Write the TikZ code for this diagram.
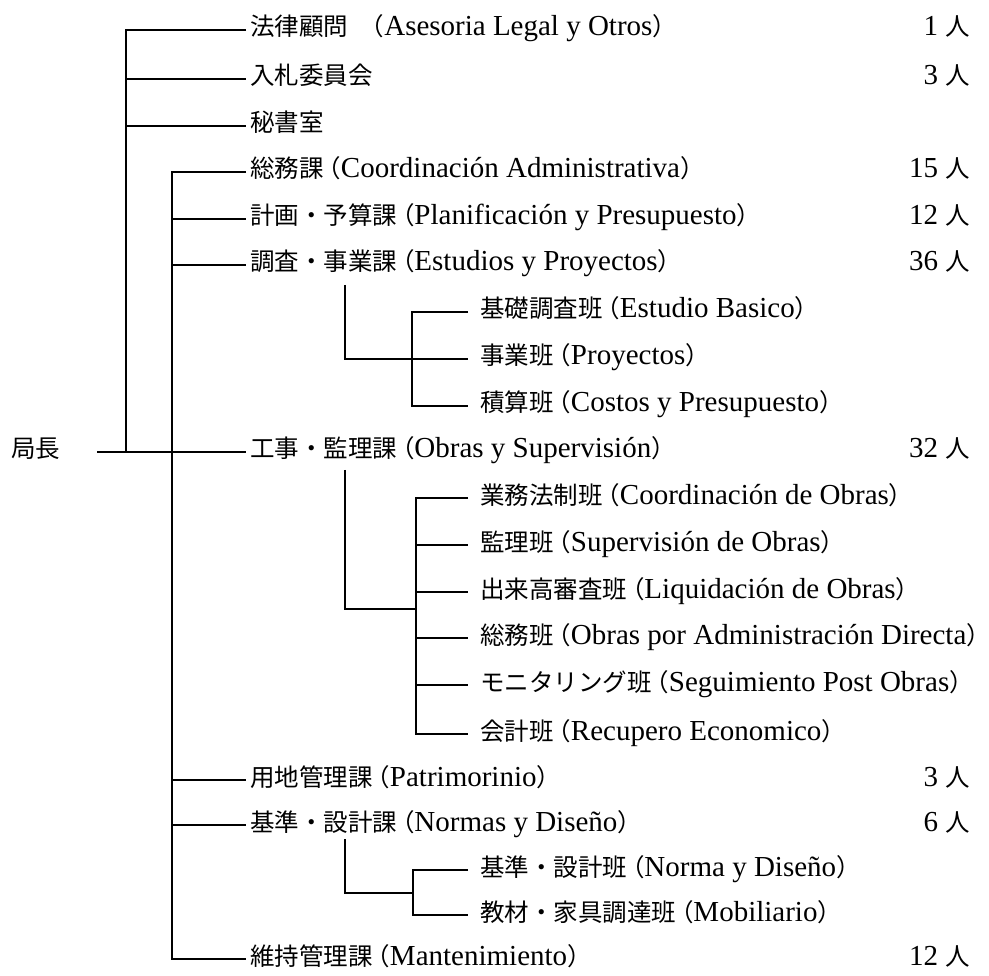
\documentclass[tikz,border=0pt]{standalone}
\usepackage{fontspec}
\setmainfont{Liberation Serif}
\newfontfamily\cjk{Noto Sans CJK JP}[Scale=0.845]
\newcommand\J[1]{{\cjk #1}}
\newcommand\LP{\kern-0.25em\J{（}}
\newcommand\RP{\J{）}}
\begin{document}
\begin{tikzpicture}[x=1pt,y=-1pt,
  every node/.style={inner ysep=0pt,text height=14pt,text depth=2pt,font=\fontsize{29}{31}\selectfont},
  lab/.style={anchor=west,inner xsep=4pt},
  sublab/.style={anchor=west,inner xsep=12pt},
  num/.style={anchor=east,inner xsep=0pt},
  conn/.style={line width=1.6pt}]
\useasboundingbox (0,0) rectangle (989,976);
% head
\node[anchor=west,inner xsep=0pt] (chief) at (11,452) {\J{局長}};
% main labels
\node[lab] (n0) at (246,30) {\J{法律顧問}\hspace{0.4em}\J{（}Asesoria Legal y Otros\RP};
\node[lab] (n1) at (246,79) {\J{入札委員会}};
\node[lab] (n2) at (246,126) {\J{秘書室}};
\node[lab] (n3) at (246,172) {\J{総務課}\LP Coordinación Administrativa\RP};
\node[lab] (n4) at (246,219) {\J{計画・予算課}\LP Planificación y Presupuesto\RP};
\node[lab] (n5) at (246,265) {\J{調査・事業課}\LP Estudios y Proyectos\RP};
\node[sublab] (n6) at (468,312) {\J{基礎調査班}\LP Estudio Basico\RP};
\node[sublab] (n7) at (468,359) {\J{事業班}\LP Proyectos\RP};
\node[sublab] (n8) at (468,406) {\J{積算班}\LP Costos y Presupuesto\RP};
\node[lab] (n9) at (246,452) {\J{工事・監理課}\LP Obras y Supervisión\RP};
\node[sublab] (n10) at (468,498) {\J{業務法制班}\LP Coordinación de Obras\RP};
\node[sublab] (n11) at (468,545) {\J{監理班}\LP Supervisión de Obras\RP};
\node[sublab] (n12) at (468,592) {\J{出来高審査班}\LP Liquidación de Obras\RP};
\node[sublab] (n13) at (468,638) {\J{総務班}\LP Obras por Administración Directa\RP};
\node[sublab] (n14) at (468,685) {\J{モニタリング班}\LP Seguimiento Post Obras\RP};
\node[sublab] (n15) at (468,734) {\J{会計班}\LP Recupero Economico\RP};
\node[lab] (n16) at (246,780) {\J{用地管理課}\LP Patrimorinio\RP};
\node[lab] (n17) at (246,825) {\J{基準・設計課}\LP Normas y Diseño\RP};
\node[sublab] (n18) at (468,870) {\J{基準・設計班}\LP Norma y Diseño\RP};
\node[sublab] (n19) at (468,915) {\J{教材・家具調達班}\LP Mobiliario\RP};
\node[lab] (n20) at (246,959) {\J{維持管理課}\LP Mantenimiento\RP};
% staff numbers
\node[num] (c0) at (970,30) {1 \J{人}};
\node[num] (c1) at (970,79) {3 \J{人}};
\node[num] (c3) at (970,172) {15 \J{人}};
\node[num] (c4) at (970,219) {12 \J{人}};
\node[num] (c5) at (970,265) {36 \J{人}};
\node[num] (c9) at (970,452) {32 \J{人}};
\node[num] (c16) at (970,780) {3 \J{人}};
\node[num] (c17) at (970,825) {6 \J{人}};
\node[num] (c20) at (970,959) {12 \J{人}};
% connectors: head line
\coordinate (jL) at (97,452);
\draw[conn] (jL) -- (n9.west);
% outer bracket
\coordinate (bA) at (126,452);
\draw[conn] (n0.west) -| (bA);
\draw[conn] (bA |- n1.west) -- (n1.west);
\draw[conn] (bA |- n2.west) -- (n2.west);
% inner bracket
\coordinate (bBt) at (172,172);
\coordinate (bBb) at (172,959);
\draw[conn] (n3.west) -- (bBt) -- (bBb) -- (n20.west);
\foreach \n in {n4,n5,n16,n17} \draw[conn] (bBt |- \n.west) -- (\n.west);
% sub bracket 1
\coordinate (s1t) at (345,285);
\draw[conn] (s1t) |- (n7.west);
\coordinate (s1b) at (412,406);
\draw[conn] (n6.west) -| (s1b) -- (n8.west);
% sub bracket 2
\coordinate (s2t) at (345,470);
\coordinate (s2j) at (416,609);
\draw[conn] (s2t) |- (s2j);
\coordinate (s2b) at (416,734);
\draw[conn] (n10.west) -| (s2b) -- (n15.west);
\foreach \n in {n11,n12,n13,n14} \draw[conn] (s2b |- \n.west) -- (\n.west);
% sub bracket 3
\coordinate (s3t) at (345,839);
\coordinate (s3j) at (413,893);
\draw[conn] (s3t) |- (s3j);
\coordinate (s3b) at (413,915);
\draw[conn] (n18.west) -| (s3b) -- (n19.west);
\end{tikzpicture}
\end{document}
